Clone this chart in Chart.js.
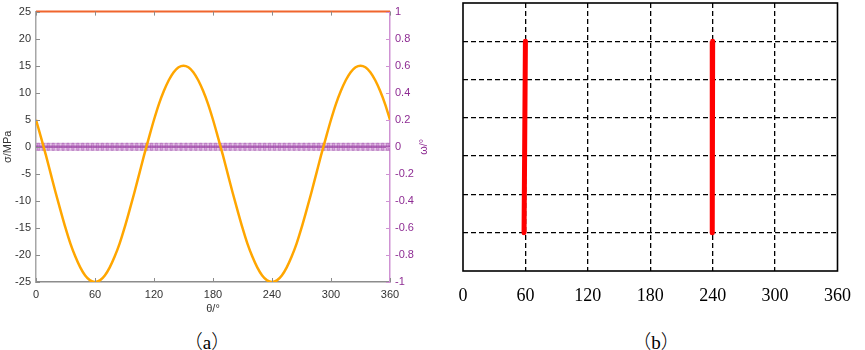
<!DOCTYPE html>
<html><head><meta charset="utf-8">
<script src="https://cdn.jsdelivr.net/npm/chart.js@4.4.0/dist/chart.umd.min.js"></script>
<style>
html,body{margin:0;padding:0;background:#fff;width:865px;height:350px;overflow:hidden}
#wa{position:absolute;left:0;top:0;width:440px;height:320px}
#wb{position:absolute;left:440px;top:0;width:425px;height:320px}
.cap{position:absolute;top:330px;font-size:19px;color:#000;white-space:nowrap;transform:translateX(-50%);line-height:22px}
.cj{font-family:"Noto Sans CJK SC",sans-serif;font-weight:300}
.sf{font-family:"Liberation Serif","Times New Roman",serif}
</style></head><body>
<div id="wa"><canvas id="ca"></canvas></div>
<div id="wb"><canvas id="cb"></canvas></div>
<div class="cap" style="left:207px"><span class="cj">（</span><span class="sf">a</span><span class="cj">）</span></div>
<div class="cap" style="left:656px"><span class="cj">（</span><span class="sf">b</span><span class="cj">）</span></div>
<script>
// ---- data ----
const theta = [0,5,10,15,20,25,30,35,40,45,50,55,60,65,70,75,80,85,90,95,100,105,110,115,120,125,130,135,140,145,150,155,160,165,170,175,180,185,190,195,200,205,210,215,220,225,230,235,240,245,250,255,260,265,270,275,280,285,290,295,300,305,310,315,320,325,330,335,340,345,350,355,360];
const sigma = [5,1.8,-1.5,-5,-8.5,-11.8,-15,-17.9,-20.3,-22.3,-23.8,-24.7,-25,-24.7,-23.8,-22.3,-20.3,-17.9,-15,-11.8,-8.5,-5,-1.5,1.8,5,7.9,10.3,12.3,13.8,14.7,15,14.7,13.8,12.3,10.3,7.9,5,1.8,-1.5,-5,-8.5,-11.8,-15,-17.9,-20.3,-22.3,-23.8,-24.7,-25,-24.7,-23.8,-22.3,-20.3,-17.9,-15,-11.8,-8.5,-5,-1.5,1.8,5,7.9,10.3,12.3,13.8,14.7,15,14.7,13.8,12.3,10.3,7.9,5];
const omega = [0,0,0,0,0,0,0,0,0,0,0,0,0,0,0,0,0,0,0,0,0,0,0,0,0,0,0,0,0,0,0,0,0,0,0,0,0,0,0,0,0,0,0,0,0,0,0,0,0,0,0,0,0,0,0,0,0,0,0,0,0,0,0,0,0,0,0,0,0,0,0,0,0];
const limitTheta = [0,360];
const limitSigma = [25,25];
const crack1Theta = [60,58.7];
const crack1Y = [6,1];
const crack2Theta = [240,239.6];
const crack2Y = [6,1];

const purple = '#8e2c93';
const purpleLight = '#cf92d3';

function pts(xs, ys){ return xs.map((x,i)=>({x:x,y:ys[i]})); }

const tickPlugin = {
  id:'tickA',
  afterDraw(chart){
    const ctx = chart.ctx, a = chart.chartArea, s = chart.scales;
    ctx.save();
    ctx.lineWidth = 1;
    ctx.strokeStyle = '#8c8c8c';
    s.x.ticks.forEach(t=>{
      const px = Math.round(s.x.getPixelForValue(t.value))+0.5;
      ctx.beginPath(); ctx.moveTo(px,a.bottom); ctx.lineTo(px,a.bottom-4); ctx.stroke();
      ctx.beginPath(); ctx.moveTo(px,a.top); ctx.lineTo(px,a.top+4); ctx.stroke();
    });
    s.y.ticks.forEach(t=>{
      const py = Math.round(s.y.getPixelForValue(t.value))+0.5;
      ctx.beginPath(); ctx.moveTo(a.left,py); ctx.lineTo(a.left+4,py); ctx.stroke();
    });
    ctx.strokeStyle = purpleLight;
    s.y1.ticks.forEach(t=>{
      const py = Math.round(s.y1.getPixelForValue(t.value))+0.5;
      ctx.beginPath(); ctx.moveTo(a.right,py); ctx.lineTo(a.right-4,py); ctx.stroke();
    });
    // right axis title
    ctx.fillStyle = purple;
    ctx.font = '11px "Liberation Sans", Arial, sans-serif';
    ctx.textAlign = 'center'; ctx.textBaseline = 'middle';
    ctx.translate(424,(a.top+a.bottom)/2);
    ctx.rotate(-Math.PI/2);
    ctx.fillText('ω/°',0,0);
    ctx.restore();
  }
};

const sansFont = {family:'"Liberation Sans", Arial, sans-serif',size:11};

new Chart(document.getElementById('ca'),{
  type:'line',
  data:{datasets:[
    {data:pts(theta,omega), yAxisID:'y1', borderColor:'rgba(125,35,135,0.7)', borderWidth:2.5,
     pointStyle:'rect', pointRadius:5, pointBackgroundColor:'rgba(185,100,195,0.35)', pointBorderColor:'rgba(150,60,160,0.35)', pointBorderWidth:1, order:3},
    {data:pts(theta,sigma), yAxisID:'y', borderColor:'#ffa600', borderWidth:2.5, pointRadius:0,
     cubicInterpolationMode:'monotone', order:1},
    {data:pts(limitTheta,limitSigma), yAxisID:'y', borderColor:'#f0652d', borderWidth:2, pointRadius:0, clip:false, order:0}
  ]},
  options:{
    responsive:true, maintainAspectRatio:false, animation:false,
    layout:{padding:{top:4,left:0,right:0,bottom:0}},
    plugins:{legend:{display:false},tooltip:{enabled:false}},
    scales:{
      x:{type:'linear',min:0,max:360,
         ticks:{stepSize:60,autoSkip:false,maxRotation:0,color:'#333',padding:6,font:sansFont},
         grid:{display:false,drawTicks:false},
         border:{display:true,color:'#8c8c8c',width:1.5},
         title:{display:true,text:'θ/°',color:'#333',font:sansFont,padding:{top:1,bottom:4}},
         afterFit:s=>{s.height=38;}},
      y:{type:'linear',position:'left',min:-25,max:25,
         ticks:{stepSize:5,color:'#333',padding:5,font:sansFont},
         grid:{display:false,drawTicks:false},
         border:{display:true,color:'#a6a6a6',width:1.5},
         title:{display:true,text:'σ/MPa',color:'#333',font:sansFont,padding:{top:1,bottom:0}},
         afterFit:s=>{s.width=36;}},
      y1:{type:'linear',position:'right',min:-1,max:1,
         ticks:{stepSize:0.2,color:purple,padding:5,font:sansFont,
                callback:v=>{const n=Number(v.toFixed(1)); return (n===0?0:n).toString();}},
         grid:{display:false,drawTicks:false},
         border:{display:true,color:purpleLight,width:1.5},
         afterFit:s=>{s.width=50;}}
    }
  },
  plugins:[tickPlugin]
});

const boxPlugin = {
  id:'boxB',
  afterDraw(chart){
    const ctx = chart.ctx, a = chart.chartArea;
    ctx.save();
    ctx.strokeStyle = '#000'; ctx.lineWidth = 1.6;
    ctx.strokeRect(a.left, a.top, a.right-a.left, a.bottom-a.top);
    ctx.restore();
  }
};

const gridColor = (lo,hi)=>ctx=>{
  const v = ctx.tick ? ctx.tick.value : null;
  return (v===lo||v===hi) ? 'rgba(0,0,0,0)' : '#000';
};

new Chart(document.getElementById('cb'),{
  type:'line',
  data:{datasets:[
    {data:pts(crack1Theta,crack1Y), borderColor:'#ff0000', borderWidth:5, pointRadius:0, borderCapStyle:'round', clip:false},
    {data:pts(crack2Theta,crack2Y), borderColor:'#ff0000', borderWidth:5, pointRadius:0, borderCapStyle:'round', clip:false}
  ]},
  options:{
    responsive:true, maintainAspectRatio:false, animation:false,
    layout:{padding:{top:3,left:0,right:15,bottom:0}},
    plugins:{legend:{display:false},tooltip:{enabled:false}},
    scales:{
      x:{type:'linear',min:0,max:360,
         ticks:{stepSize:60,autoSkip:false,maxRotation:0,color:'#000',padding:14,font:{family:'"Liberation Serif", "Times New Roman", serif',size:18}},
         grid:{color:gridColor(0,360),lineWidth:1.3,drawTicks:false},
         border:{display:false,dash:[5,3]},
         afterFit:s=>{s.height=49;}},
      y:{type:'linear',min:0,max:7,
         ticks:{display:false,stepSize:1},
         grid:{color:gridColor(0,7),lineWidth:1.3,drawTicks:false},
         border:{display:false,dash:[5,3]},
         afterFit:s=>{s.width=23;}}
    }
  },
  plugins:[boxPlugin]
});
</script>
</body></html>
